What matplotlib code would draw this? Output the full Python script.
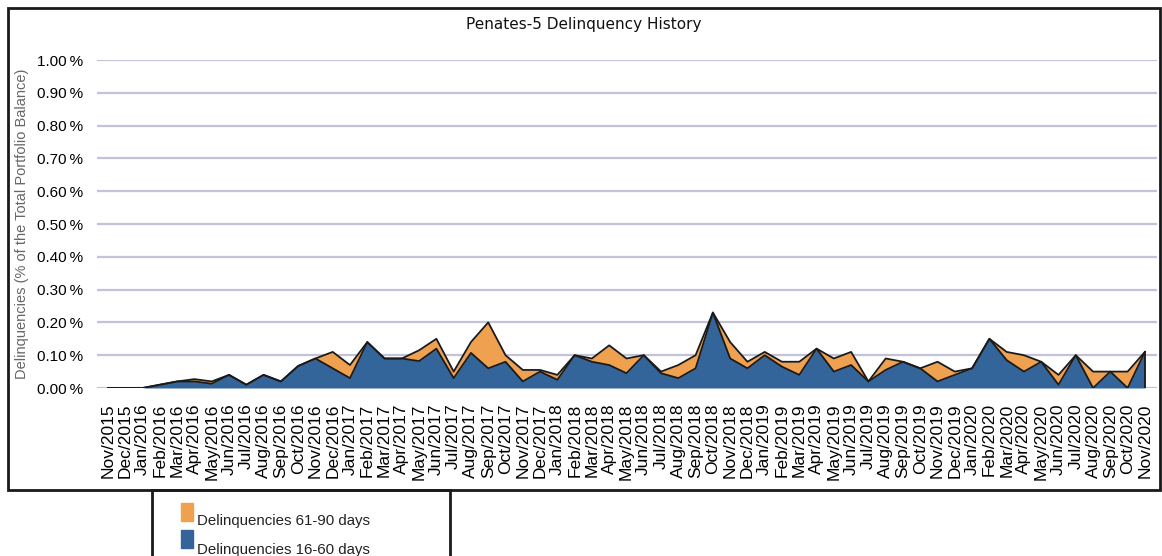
import numpy as np
import matplotlib
matplotlib.use('Agg')
import matplotlib.pyplot as plt
from matplotlib.patches import Rectangle
from matplotlib import font_manager

plt.rcParams['font.family'] = ['Liberation Sans', 'DejaVu Sans']
names = set(f.name for f in font_manager.fontManager.ttflist)
narrow = 'Liberation Sans Narrow' if 'Liberation Sans Narrow' in names else 'Liberation Sans'

#Month labels Nov/2015 .. Nov/2020
month_names = ['Jan','Feb','Mar','Apr','May','Jun','Jul','Aug','Sep','Oct','Nov','Dec']
months = []
for k in range(61):
    m = (10 + k) % 12
    y = 2015 + (10 + k) // 12
    months.append(month_names[m] + '/' + str(y))

#Delinquencies 16-60 days (% of balance)
d16_60 = [0.00, 0.00, 0.00, 0.01, 0.02, 0.02, 0.013, 0.04, 0.01, 0.04,
          0.02, 0.067, 0.09, 0.06, 0.03, 0.14, 0.09, 0.09, 0.082, 0.12,
          0.03, 0.107, 0.06, 0.08, 0.02, 0.05, 0.025, 0.10, 0.08, 0.07,
          0.045, 0.10, 0.045, 0.03, 0.06, 0.23, 0.09, 0.06, 0.10, 0.065,
          0.04, 0.12, 0.05, 0.07, 0.02, 0.055, 0.08, 0.06, 0.02, 0.04,
          0.06, 0.15, 0.085, 0.05, 0.08, 0.01, 0.10, 0.00, 0.05, 0.00,
          0.11]
#Total (16-60 + 61-90)
total = [0.00, 0.00, 0.00, 0.01, 0.02, 0.027, 0.02, 0.04, 0.01, 0.04,
         0.02, 0.067, 0.09, 0.11, 0.07, 0.14, 0.09, 0.09, 0.115, 0.15,
         0.05, 0.14, 0.20, 0.10, 0.055, 0.055, 0.04, 0.10, 0.09, 0.13,
         0.09, 0.10, 0.05, 0.07, 0.10, 0.23, 0.14, 0.08, 0.11, 0.08,
         0.08, 0.12, 0.09, 0.11, 0.02, 0.09, 0.08, 0.06, 0.08, 0.05,
         0.06, 0.15, 0.11, 0.10, 0.08, 0.04, 0.10, 0.05, 0.05, 0.05,
         0.11]
d61_90 = list(np.array(total) - np.array(d16_60))

yticks = [0.0, 0.1, 0.2, 0.3, 0.4, 0.5, 0.6, 0.7, 0.8, 0.9, 1.0]

orange = '#F0A150'
blue = '#33659A'

fig = plt.figure(figsize=(11.62, 5.56), dpi=100)
ax = fig.add_axes([97/1162, 1-388/556, (1157-97)/1162, (388-60)/556])

x = np.arange(len(months))
lower = np.array(d16_60)
upper = lower + np.array(d61_90)
ax.fill_between(x, lower, upper, color=orange, linewidth=0, zorder=2)
ax.fill_between(x, 0, lower, color=blue, linewidth=0, zorder=3)
ax.plot(x, upper, color='#1a1a1a', linewidth=1.3, zorder=4)
ax.plot(x, lower, color='#1a1a1a', linewidth=1.3, zorder=4)
ax.plot([x[-1], x[-1]], [0, lower[-1]], color='#1a1a1a', linewidth=1.3, zorder=4)

ax.set_xlim(-0.64, 60.7)
ax.set_ylim(0, 1.0)
ax.set_yticks(yticks)
ax.set_yticklabels(['%.2f\u2009%%' % v for v in yticks], fontsize=11, family=narrow)
ax.yaxis.grid(True, color='#C4C2D8', linewidth=1.6, zorder=0)
ax.set_axisbelow(True)
ax.set_xticks(x)
ax.set_xticklabels(months, rotation=90, fontsize=12.5, va='top', family=narrow)
ax.tick_params(axis='both', length=0)
ax.tick_params(axis='y', pad=10)
ax.tick_params(axis='x', pad=11)
for s in ax.spines.values():
    s.set_visible(False)

ax.set_ylabel('Delinquencies (% of the Total Portfolio Balance)', fontsize=10.5, color='#666666', labelpad=6, family=narrow)

fig.text(584/1162, 1-25/556, 'Penates-5 Delinquency History', ha='center', va='center',
         fontsize=11, family='DejaVu Sans', color='#111111')

#outer frame and legend box
fig.patches.append(Rectangle((8/1162, 1-490/556), (1160-8)/1162, (490-8)/556,
                             transform=fig.transFigure, fill=False, edgecolor='#1a1a1a', linewidth=2))
fig.patches.append(Rectangle((152/1162, -0.05), (450-152)/1162, (556-490)/556 + 0.05,
                             transform=fig.transFigure, fill=False, edgecolor='#1a1a1a', linewidth=2))
fig.patches.append(Rectangle((181/1162, 1-521/556), 12/1162, 18/556,
                             transform=fig.transFigure, color=orange))
fig.patches.append(Rectangle((181/1162, 1-548/556), 12/1162, 18/556,
                             transform=fig.transFigure, color=blue))
fig.text(197/1162, 1-521/556, 'Delinquencies 61-90 days', fontsize=10.8, va='center', color='#222222')
fig.text(197/1162, 1-550/556, 'Delinquencies 16-60 days', fontsize=10.8, va='center', color='#222222')

fig.savefig('out.png', dpi=100)
